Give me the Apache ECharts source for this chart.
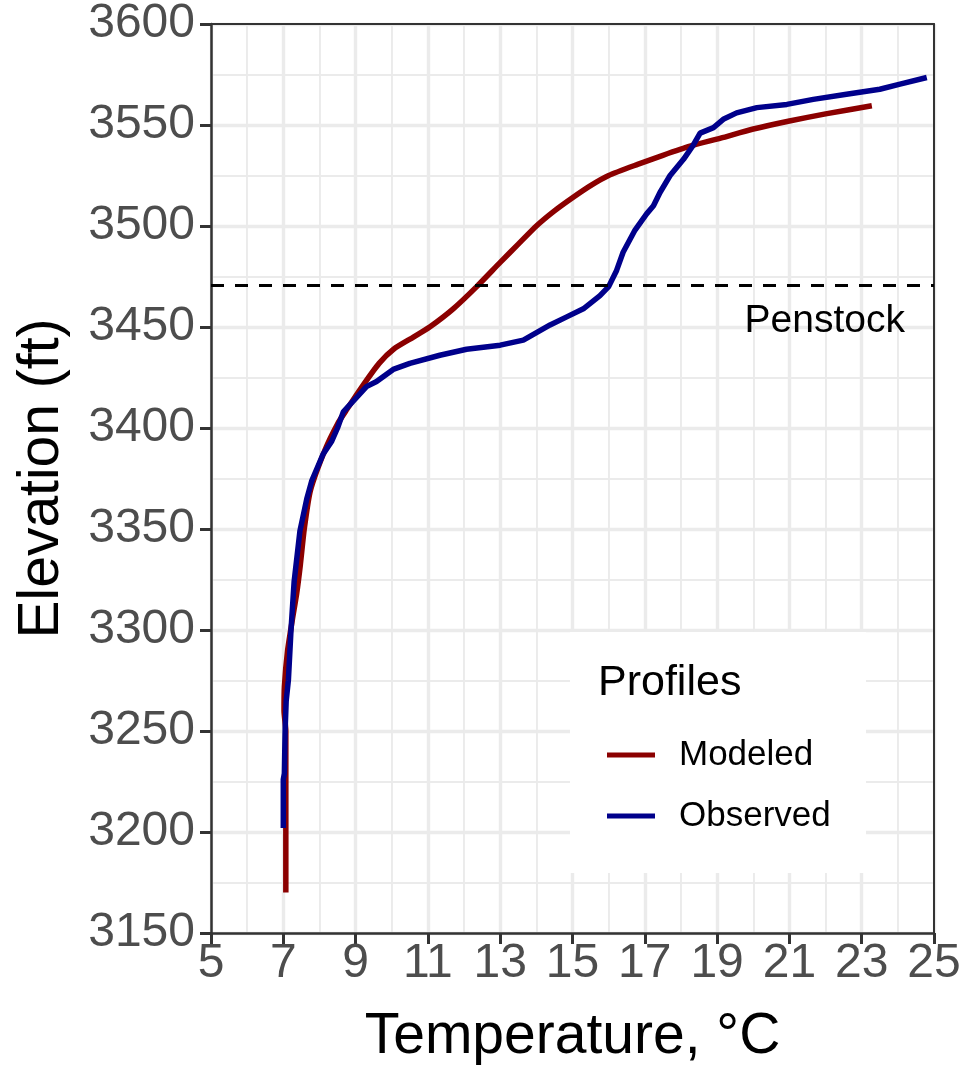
<!DOCTYPE html>
<html>
<head>
<meta charset="utf-8">
<script src="https://cdn.jsdelivr.net/npm/echarts@6/dist/echarts.min.js"></script>
<style>
  html, body { margin: 0; padding: 0; background: #fff; }
  #chart { width: 966px; height: 1071px; }
</style>
</head>
<body>
<div id="chart"></div>
<script>
// modeled profile (temperature degC, elevation ft)
var modeledTemp = [7.07, 7.07, 7.02, 7.03, 7.12, 7.25, 7.37, 7.47, 7.58, 7.75, 8.15, 8.5, 8.75, 9.2, 9.65, 10.05, 10.6, 11.05, 11.7, 12.35, 13.0, 13.5, 14.0, 14.5, 15.0, 15.5, 16.0, 16.8, 17.5, 18.25, 19.1, 20.0, 21.0, 22.0, 23.28];
var modeledElev = [3170, 3250, 3260, 3272, 3290, 3305, 3318, 3332, 3350, 3369, 3389, 3402, 3409, 3421, 3432, 3439, 3445, 3450, 3459, 3470, 3482, 3491, 3500, 3507.5, 3514, 3520, 3525, 3530.5, 3535, 3539.5, 3543.5, 3548, 3552, 3555.5, 3559.5];

// observed profile
var observedTemp = [7.0, 7.0, 7.03, 7.05, 7.08, 7.14, 7.21, 7.3, 7.46, 7.65, 7.79, 8.1, 8.34, 8.5, 8.66, 8.92, 9.3, 9.58, 10.04, 10.5, 11.33, 12.07, 13.0, 13.64, 14.38, 14.84, 15.3, 15.76, 16.0, 16.22, 16.4, 16.73, 17.05, 17.24, 17.42, 17.7, 18.07, 18.34, 18.53, 18.9, 19.17, 19.54, 20.1, 20.93, 21.66, 22.58, 23.5, 24.06, 24.8];
var observedElev = [3202, 3226, 3229, 3250, 3265, 3275, 3299, 3324, 3349, 3365, 3374, 3387, 3393.5, 3400, 3408, 3413, 3420.5, 3423, 3429, 3432, 3436, 3439, 3441, 3443.5, 3451, 3455, 3459, 3465.5, 3470, 3478, 3487, 3498, 3506, 3510, 3516.6, 3525, 3533, 3540, 3546, 3548.7, 3552.8, 3556, 3558.6, 3560.2, 3562.7, 3565.2, 3567.7, 3570.2, 3573.5];

var penstockElev = 3470.5;

function pairs(xs, ys) {
  var out = [];
  for (var i = 0; i < xs.length; i++) out.push([xs[i], ys[i]]);
  return out;
}

var myChart = echarts.init(document.getElementById('chart'));

var gridColor = '#EBEBEB';
var labelFont = 'Liberation Sans, Arial, sans-serif';

// top / right axes only used to draw the panel border
var borderAxis = {
  axisLine: { show: true, onZero: false, lineStyle: { color: '#333', width: 2 } },
  axisTick: { show: false },
  axisLabel: { show: false },
  splitLine: { show: false }
};

var option = {
  backgroundColor: '#fff',
  animation: false,
  grid: { left: 211, right: 32, top: 23, bottom: 138 },
  xAxis: [{
    type: 'value',
    min: 5, max: 25, interval: 2,
    name: 'Temperature, \u00B0C',
    nameLocation: 'middle',
    nameGap: 76,
    nameTextStyle: { fontFamily: labelFont, fontSize: 57, color: '#000' },
    axisLine: { show: true, onZero: false, lineStyle: { color: '#333', width: 2.5 } },
    axisTick: { show: true, length: 11, lineStyle: { color: '#333', width: 3 } },
    axisLabel: { fontFamily: labelFont, fontSize: 48, color: '#4D4D4D', margin: 7 },
    splitLine: { show: true, lineStyle: { color: gridColor, width: 3.4 } },
    minorTick: { show: false, splitNumber: 2 },
    minorSplitLine: { show: true, lineStyle: { color: gridColor, width: 1.9 } }
  }, Object.assign({ type: 'value', position: 'top', min: 5, max: 25 }, borderAxis)],
  yAxis: [{
    type: 'value',
    min: 3150, max: 3600, interval: 50,
    name: 'Elevation (ft)',
    nameLocation: 'middle',
    nameGap: 140,
    nameTextStyle: { fontFamily: labelFont, fontSize: 57, color: '#000' },
    axisLine: { show: true, onZero: false, lineStyle: { color: '#333', width: 2.5 } },
    axisTick: { show: true, length: 11, lineStyle: { color: '#333', width: 3 } },
    axisLabel: {
      fontFamily: labelFont, fontSize: 48, color: '#4D4D4D', margin: 16,
      formatter: function (v) { return String(v); }
    },
    splitLine: { show: true, lineStyle: { color: gridColor, width: 3.4 } },
    minorTick: { show: false, splitNumber: 2 },
    minorSplitLine: { show: true, lineStyle: { color: gridColor, width: 1.9 } }
  }, Object.assign({ type: 'value', position: 'right', min: 3150, max: 3600 }, borderAxis)],
  legend: {
    orient: 'vertical',
    left: 602, top: 730,
    itemWidth: 48, itemHeight: 5,
    itemGap: 21,
    icon: 'rect',
    z: 6,
    data: ['Modeled', 'Observed'],
    textStyle: { fontFamily: labelFont, fontSize: 35, color: '#000', lineHeight: 40, padding: [0, 0, 0, 19] }
  },
  graphic: {
    elements: [
      // legend background, hides the grid behind it
      { type: 'rect', z: 3, shape: { x: 570, y: 632, width: 296, height: 241 }, style: { fill: '#fff' } },
      { type: 'text', z: 5, x: 598, y: 683, style: { text: 'Profiles', font: '43px Liberation Sans, Arial, sans-serif', fill: '#000', verticalAlign: 'middle' } }
    ]
  },
  series: [
    {
      name: 'Modeled',
      type: 'line',
      data: pairs(modeledTemp, modeledElev),
      showSymbol: false,
      smooth: 0.2,
      color: '#8B0000',
      lineStyle: { color: '#8B0000', width: 5.5 },
      markLine: {
        silent: true,
        symbol: 'none',
        lineStyle: { color: '#000', width: 3, type: [13, 11] },
        label: {
          show: true,
          position: 'insideEndBottom',
          formatter: 'Penstock',
          fontFamily: labelFont, fontSize: 39, color: '#000',
          distance: [29, 16]
        },
        data: [{ yAxis: penstockElev }]
      }
    },
    {
      name: 'Observed',
      type: 'line',
      data: pairs(observedTemp, observedElev),
      showSymbol: false,
      color: '#00008B',
      lineStyle: { color: '#00008B', width: 5.5 }
    }
  ]
};

myChart.setOption(option);
</script>
</body>
</html>
